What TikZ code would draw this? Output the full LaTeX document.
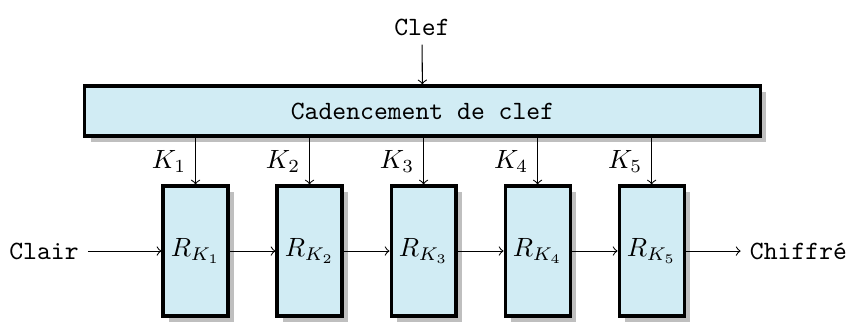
\documentclass[tikz,border=0pt]{standalone}
\usetikzlibrary{positioning,shadows}
\definecolor{boxblue}{RGB}{209,236,244}
\begin{document}
\begin{tikzpicture}[->,node distance=1.518cm,
    box node/.style={rectangle,draw,line width=1.2pt,fill=boxblue,drop shadow,inner sep=0pt},
    round node/.style={box node,minimum width=0.865cm,minimum height=1.73cm},
    sched node/.style={box node,minimum width=8.99cm,minimum height=0.666cm,font=\ttfamily}]
        \useasboundingbox (0,0) rectangle (11.316,-4.287);
        \node[sched node] (sched) at (5.625,-1.478) {Cadencement de clef};
        \node (clef) at (5.618,-0.359) {\texttt{Clef}};
        \node[round node] (r1) at (2.603,-3.342) {$R_{K_1}$};
        \node[round node] (r2) [right of=r1] {$R_{K_2}$};
        \node[round node] (r3) [right of=r2] {$R_{K_3}$};
        \node[round node] (r4) [right of=r3] {$R_{K_4}$};
        \node[round node] (r5) [right of=r4] {$R_{K_5}$};
        \node (clair) at (0.586,-3.342) {\texttt{Clair}};
        \node[anchor=west] (chiffre) at (9.86,-3.342) {\texttt{Chiffré}};
        \draw (clef) -- (sched);
        \foreach \i in {1,...,5}
            \draw (sched.south -| r\i) -- node[midway,left] {$K_\i$} (r\i);
        \draw (clair) -- (r1);
        \draw (r1) -- (r2);
        \draw (r2) -- (r3);
        \draw (r3) -- (r4);
        \draw (r4) -- (r5);
        \draw (r5) -- (chiffre);
      \end{tikzpicture}
\end{document}
